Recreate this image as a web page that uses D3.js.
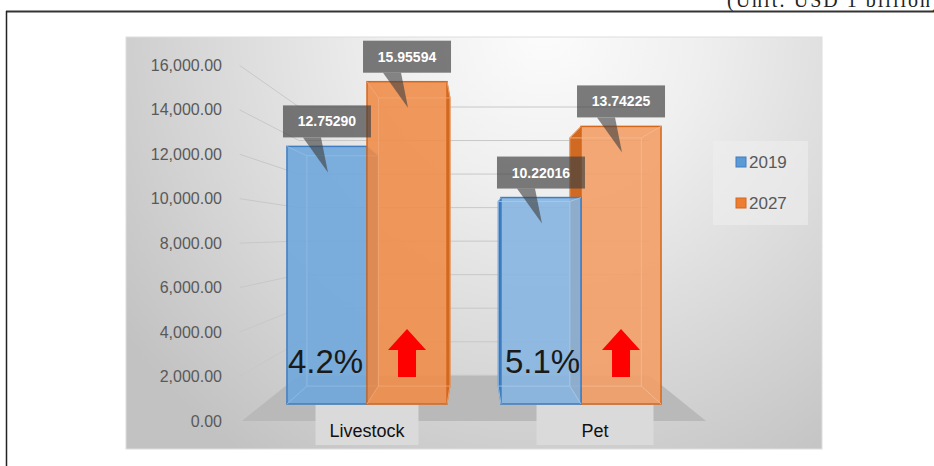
<!DOCTYPE html>
<html>
<head>
<meta charset="utf-8">
<script src="https://cdn.jsdelivr.net/npm/d3@7"></script>
<style>
  html, body { margin: 0; padding: 0; background: #ffffff; }
  svg { display: block; }
</style>
</head>
<body>
<svg id="chart" width="934" height="466"></svg>
<script>
// ---- data ----
const categories   = ["Livestock", "Pet"];
const seriesNames  = ["2019", "2027"];
const values2019   = [12.75290, 10.22016];   // USD billion
const values2027   = [15.95594, 13.74225];   // USD billion
const growthRates  = ["4.2%", "5.1%"];
const yTicks       = [0, 2000, 4000, 6000, 8000, 10000, 12000, 14000, 16000];
const unitText     = "(Unit: USD 1 billion)";

// ---- layout / style ----
const W = 934, H = 466;
const panel = { x: 126, y: 37, w: 696, h: 412 };
const VP = [475, 235];               // perspective vanishing point
const S_FRONT = 1.10;                // side-wall / floor front edge
const S_BAR_BACK = 0.894;            // back face of the bars
const S_WALL = 0.83;                 // back wall
const wallX = [263, 685];            // wall extent in the bar plane
const seriesColors = { "2019": "#5b9bd5", "2027": "#ed7d31" };
const seriesEdge   = { "2019": "#3f7dc1", "2027": "#d2681e" };
const seriesSide   = { "2019": "#3c76b4", "2027": "#d06a22" };
const catTint      = [0.12, 0.26];   // lighter face on the second group
const catLabelShift = [0, 14];
const catLabelWidth = [103, 117];

const project = (x, y, s) => [VP[0] + (x - VP[0]) * s, VP[1] + (y - VP[1]) * s];

const svg = d3.select("#chart");
const defs = svg.append("defs");

// page frame
svg.append("text")
  .attr("x", 727).attr("y", 7)
  .attr("font-family", "Liberation Serif, DejaVu Serif, serif")
  .attr("font-size", 20).attr("letter-spacing", 2)
  .attr("fill", "#222")
  .text(unitText);
svg.append("line").attr("x1", 6).attr("x2", W).attr("y1", 11.5).attr("y2", 11.5)
  .attr("stroke", "#333").attr("stroke-width", 2);
svg.append("line").attr("x1", 6.5).attr("x2", 6.5).attr("y1", 11).attr("y2", H)
  .attr("stroke", "#222").attr("stroke-width", 1.5);

// chart area background
const grad = defs.append("radialGradient").attr("id", "bg")
  .attr("gradientUnits", "userSpaceOnUse")
  .attr("cx", 545).attr("cy", 30).attr("r", 520);
grad.append("stop").attr("offset", 0).attr("stop-color", "#fcfcfc");
grad.append("stop").attr("offset", 0.3).attr("stop-color", "#efefef");
grad.append("stop").attr("offset", 1).attr("stop-color", "#c2c2c2");
svg.append("rect")
  .attr("x", panel.x).attr("y", panel.y).attr("width", panel.w).attr("height", panel.h)
  .attr("fill", "url(#bg)").attr("stroke", "#dedede").attr("stroke-width", 1);

// scales
const y = d3.scaleLinear().domain([0, 16000]).range([404, 80.8]);
const x0 = d3.scaleBand().domain(categories).range([260, 688])
  .paddingInner(0.252).paddingOuter(0.126);
const x1 = d3.scaleBand().domain(seriesNames).range([0, x0.bandwidth()]);
const yAxisScale = d3.scaleLinear().domain([0, 16000])
  .range([project(0, y(0), S_FRONT)[1], project(0, y(16000), S_FRONT)[1]]);

// floor
const floorPts = [
  project(wallX[0], y(0), S_FRONT), project(wallX[1], y(0), S_FRONT),
  project(wallX[1], y(0), S_WALL), project(wallX[0], y(0), S_WALL)
];
svg.append("polygon").attr("points", floorPts.map(p => p.join(",")).join(" "))
  .attr("fill", "#b9b9b9");

// gridlines: side wall + back wall
const grid = svg.append("g").attr("fill", "none")
  .attr("stroke", "#c8c8c8").attr("stroke-width", 1);
yTicks.forEach(v => {
  const a = project(wallX[0] - 2, y(v), S_FRONT);
  const b = project(wallX[0], y(v), S_WALL);
  const c = project(wallX[1], y(v), S_WALL);
  grid.append("polyline").attr("points", [a, b, c].map(p => p.join(",")).join(" "));
});

// y axis labels
const axis = d3.axisLeft(yAxisScale).tickValues(yTicks)
  .tickFormat(d3.format(",.2f")).tickSize(0).tickPadding(0);
const gAxis = svg.append("g").attr("transform", "translate(222,0)").call(axis);
gAxis.select(".domain").remove();
gAxis.selectAll("text")
  .attr("font-family", "Liberation Sans, Arial, sans-serif")
  .attr("font-size", 16).attr("fill", "#595959");

// category label boxes
categories.forEach((c, i) => {
  const cx = x0(c) + x0.bandwidth() / 2 + catLabelShift[i];
  svg.append("rect").attr("x", cx - catLabelWidth[i] / 2).attr("y", 405)
    .attr("width", catLabelWidth[i]).attr("height", 40).attr("fill", "#dadada");
  svg.append("text").attr("x", cx).attr("y", 437).attr("text-anchor", "middle")
    .attr("font-family", "Liberation Sans, Arial, sans-serif")
    .attr("font-size", 18).attr("fill", "#111").text(c);
});

// bars
const bars = [];
categories.forEach((c, i) => {
  [values2019, values2027].forEach((arr, j) => {
    const s = seriesNames[j];
    bars.push({ cat: c, ci: i, series: s, value: arr[i], x: x0(c) + x1(s), w: x1.bandwidth() });
  });
});
// draw the bars farthest from the vanishing point first
const order = bars.slice().sort((a, b) =>
  Math.abs(b.x + b.w / 2 - VP[0]) - Math.abs(a.x + a.w / 2 - VP[0]));

const gBars = svg.append("g");
order.forEach(d => {
  const top = y(d.value * 1000), bot = y(0);
  const FL = [d.x, top], FR = [d.x + d.w, top], BR = [d.x + d.w, bot], BL = [d.x, bot];
  const bFL = project(...FL, S_BAR_BACK), bFR = project(...FR, S_BAR_BACK),
        bBR = project(...BR, S_BAR_BACK), bBL = project(...BL, S_BAR_BACK);
  const base = seriesColors[d.series];
  const face = d3.interpolateRgb(base, "#ffffff")(catTint[d.ci]);
  const g = gBars.append("g");
  const side = (d.x + d.w / 2 < VP[0]) ? [FR, BR, bBR, bFR] : [FL, BL, bBL, bFL];
  g.append("polygon").attr("points", side.map(p => p.join(",")).join(" "))
    .attr("fill", seriesSide[d.series]).attr("stroke", seriesEdge[d.series]).attr("stroke-width", 1);
  g.append("rect").attr("x", d.x).attr("y", top).attr("width", d.w).attr("height", bot - top)
    .attr("fill", face).attr("fill-opacity", 0.9)
    .attr("stroke", seriesEdge[d.series]).attr("stroke-width", 1.5);
  // back edges seen through the face
  const light = d3.interpolateRgb(base, "#ffffff")(catTint[d.ci] + 0.22);
  g.append("polygon").attr("points", [bFL, bFR, bBR, bBL].map(p => p.join(",")).join(" "))
    .attr("fill", "none").attr("stroke", light).attr("stroke-width", 1).attr("stroke-opacity", 0.8);
  [[FL, bFL], [FR, bFR], [BR, bBR], [BL, bBL]].forEach(([p, q]) => {
    g.append("line").attr("x1", p[0]).attr("y1", p[1]).attr("x2", q[0]).attr("y2", q[1])
      .attr("stroke", light).attr("stroke-width", 1).attr("stroke-opacity", 0.8);
  });
});

// growth rate labels and arrows
categories.forEach((c, i) => {
  const bx = x0(c) + x1("2019");
  svg.append("text").attr("x", bx + 1 + i * 3).attr("y", y(0) - 31)
    .attr("font-family", "Liberation Sans, Arial, sans-serif")
    .attr("font-size", 33).attr("fill", "#1a1a1a").text(growthRates[i]);
  const ax = x0(c) + x1("2027") + x1.bandwidth() / 2;
  const t = y(0) - 75, b = y(0) - 27, hw = 19, sw = 9, hh = 21;
  const arrow = [[ax, t], [ax + hw, t + hh], [ax + sw, t + hh], [ax + sw, b],
                 [ax - sw, b], [ax - sw, t + hh], [ax - hw, t + hh]];
  svg.append("polygon").attr("points", arrow.map(p => p.join(",")).join(" "))
    .attr("fill", "#ff0000");
});

// value callouts
const gCall = svg.append("g");
bars.forEach(d => {
  const top = y(d.value * 1000);
  const cx = d.x + d.w / 2;
  const bw = 88, bh = 32, bb = top - 9;
  gCall.append("polygon")
    .attr("points", [[cx - 24, bb], [cx - 6, bb], [cx + 1, top + 26]].map(p => p.join(",")).join(" "))
    .attr("fill", "#404040").attr("fill-opacity", 0.62);
  gCall.append("rect").attr("x", cx - bw / 2).attr("y", bb - bh)
    .attr("width", bw).attr("height", bh)
    .attr("fill", "#404040").attr("fill-opacity", 0.68);
  gCall.append("text").attr("x", cx).attr("y", bb - bh / 2 + 5).attr("text-anchor", "middle")
    .attr("font-family", "Liberation Sans, Arial, sans-serif").attr("font-weight", "bold")
    .attr("font-size", 14).attr("fill", "#ffffff").text(d.value.toFixed(5));
});

// legend
const lg = svg.append("g");
lg.append("rect").attr("x", 713).attr("y", 141).attr("width", 95).attr("height", 84)
  .attr("fill", "#eeeeee").attr("fill-opacity", 0.6);
seriesNames.forEach((s, i) => {
  const ly = 157 + i * 41;
  lg.append("rect").attr("x", 736).attr("y", ly).attr("width", 10).attr("height", 10)
    .attr("fill", seriesColors[s]).attr("stroke", seriesEdge[s]).attr("stroke-width", 1);
  lg.append("text").attr("x", 749).attr("y", ly + 11)
    .attr("font-family", "Liberation Sans, Arial, sans-serif")
    .attr("font-size", 17).attr("fill", "#595959").text(s);
});
</script>
</body>
</html>
